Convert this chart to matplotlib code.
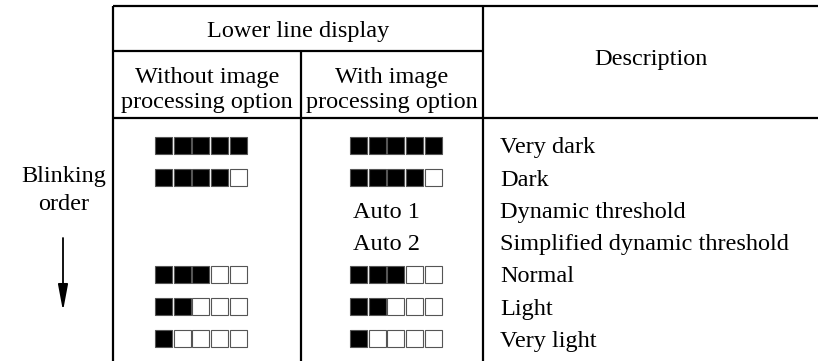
import matplotlib
matplotlib.use("Agg")
import matplotlib.pyplot as plt
from matplotlib.patches import Rectangle

# ---- data ----
descriptions = ["Very dark", "Dark", "Dynamic threshold", "Simplified dynamic threshold",
                "Normal", "Light", "Very light"]
levels_without = [5, 4, None, None, 3, 2, 1]
levels_with = [5, 4, "Auto 1", "Auto 2", 3, 2, 1]
header_top = "Lower line display"
header_col1 = ["Without image", "processing option"]
header_col2 = ["With image", "processing option"]
header_desc = "Description"
side_label = ["Blinking", "order"]
n_segments = 5

FONT = "Liberation Serif"
FS = 17.5

W, H = 818, 361
fig = plt.figure(figsize=(W / 100, H / 100), dpi=100)
ax = fig.add_axes([0, 0, 1, 1])
ax.set_xlim(0, W)
ax.set_ylim(H, 0)
ax.axis("off")

# grid geometry (pixel layout)
x_left, x_c1, x_c2, x_right = 113, 301, 483, 818
y_top, y_h1, y_h2, y_bot = 6, 51, 118, 361
lw = 1.6

def line(xs, ys):
    ax.plot(xs, ys, color="black", lw=lw, solid_capstyle="butt")

line([x_left, x_right], [y_top, y_top])
line([x_left, x_c2], [y_h1, y_h1])
line([x_left, x_right], [y_h2, y_h2])
line([x_left, x_left], [y_top, y_bot])
line([x_c2, x_c2], [y_top, y_bot])
line([x_c1, x_c1], [y_h1, y_bot])

txt = dict(fontfamily=FONT, fontsize=FS, color="black", va="baseline")
ax.text((x_left + x_c2) / 2, 37, header_top, ha="center", **txt)
for k, s in enumerate(header_col1):
    ax.text((x_left + x_c1) / 2, 83 + 25 * k, s, ha="center", **txt)
for k, s in enumerate(header_col2):
    ax.text((x_c1 + x_c2) / 2, 83 + 25 * k, s, ha="center", **txt)
ax.text((x_c2 + x_right) / 2, 65, header_desc, ha="center", **txt)
for k, s in enumerate(side_label):
    ax.text(64, 182 + 28 * k, s, ha="center", **txt)

# arrow
ax.annotate("", xy=(63, 311), xytext=(63, 238),
            arrowprops=dict(arrowstyle="-|>,head_length=1.6,head_width=0.3",
                            color="black", lw=1.3, shrinkA=0, shrinkB=0))

row_y0, row_pitch = 145.5, 32.2
sq, pitch = 17, 18.7

def draw_bar(x0, yc, level):
    for i in range(n_segments):
        filled = i < level
        ax.add_patch(Rectangle((x0 + i * pitch, yc - sq / 2), sq, sq,
                               facecolor="black" if filled else "white",
                               edgecolor="#555555", lw=0.8))

for r, desc in enumerate(descriptions):
    yc = row_y0 + r * row_pitch
    ax.text(500, yc + 8, desc, ha="left", **txt)
    lv1 = levels_without[r]
    if isinstance(lv1, int):
        draw_bar(155, yc, lv1)
    lv2 = levels_with[r]
    if isinstance(lv2, int):
        draw_bar(350, yc, lv2)
    elif lv2 is not None:
        ax.text(353, yc + 8, lv2, ha="left", **txt)

fig.savefig("out.png", dpi=100, facecolor="white")
